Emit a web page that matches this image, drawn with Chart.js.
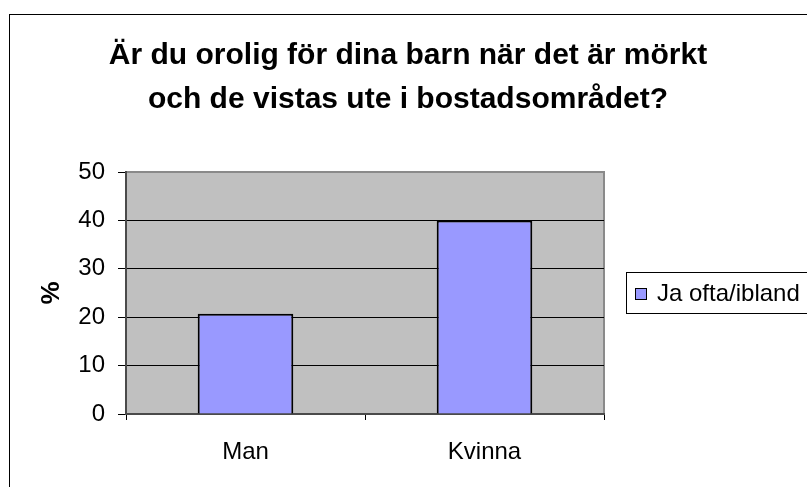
<!DOCTYPE html>
<html>
<head>
<meta charset="utf-8">
<script src="https://cdn.jsdelivr.net/npm/chart.js@4"></script>
<style>
html, body { margin: 0; padding: 0; background: #fff; }
canvas { display: block; }
</style>
</head>
<body>
<canvas id="myChart" width="807" height="487"></canvas>
<script>
const categories = ['Man', 'Kvinna'];
const seriesName = 'Ja ofta/ibland';
const values = [20.7, 40];
const yTicks = [0, 10, 20, 30, 40, 50];
const titleLines = ['Är du orolig för dina barn när det är mörkt', 'och de vistas ute i bostadsområdet?'];

Chart.defaults.font.family = '"Liberation Sans", Arial, sans-serif';
Chart.defaults.color = '#000';

// plot background, outer frame and the boxed legend (Excel look)
const frame = {
    id: 'frame',
    beforeDraw(chart) {
        const { ctx, chartArea: a } = chart;
        ctx.save();
        ctx.fillStyle = '#fff';
        ctx.fillRect(0, 0, chart.width, chart.height);
        ctx.strokeStyle = '#000';
        ctx.lineWidth = 1;
        ctx.strokeRect(9.5, 14.5, chart.width + 20, chart.height + 20);
        ctx.fillStyle = '#c0c0c0';
        ctx.fillRect(a.left, a.top, a.right - a.left, a.bottom - a.top);
        ctx.strokeStyle = '#8a8a8a';
        ctx.lineWidth = 2;
        ctx.beginPath();
        ctx.moveTo(a.left, a.top);
        ctx.lineTo(a.right, a.top);
        ctx.lineTo(a.right, a.bottom);
        ctx.stroke();
        ctx.restore();
    },
    afterDraw(chart) {
        const { ctx } = chart;
        const ds = chart.data.datasets[0];
        ctx.save();
        ctx.strokeStyle = '#000';
        ctx.lineWidth = 1;
        ctx.strokeRect(626.5, 272.5, 220, 41);
        ctx.fillStyle = ds.backgroundColor;
        ctx.fillRect(635, 288, 12, 12);
        ctx.strokeRect(635.5, 288.5, 11, 11);
        ctx.fillStyle = '#000';
        ctx.font = '24px "Liberation Sans", Arial, sans-serif';
        ctx.textBaseline = 'middle';
        ctx.fillText(ds.label, 657, 294);
        ctx.restore();
    }
};

const ctx = document.getElementById('myChart').getContext('2d');
const myChart = new Chart(ctx, {
    type: 'bar',
    data: {
        labels: categories,
        datasets: [{
            label: seriesName,
            data: values,
            backgroundColor: '#9999ff',
            borderColor: '#000',
            borderWidth: 2,
            barPercentage: 0.4,
            categoryPercentage: 1
        }]
    },
    options: {
        responsive: false,
        animation: false,
        layout: { padding: { left: 9, top: 0, right: 0, bottom: 0 } },
        plugins: {
            legend: { display: false },
            tooltip: { enabled: false },
            title: {
                display: true,
                text: titleLines,
                color: '#000',
                font: { size: 30, weight: 'bold', lineHeight: 1.45 },
                padding: { top: 34, bottom: 51 }
            }
        },
        scales: {
            x: {
                grid: { offset: true, drawOnChartArea: false, tickLength: 6, color: '#000' },
                border: { color: '#4a4a4a', width: 2 },
                ticks: { font: { size: 24 }, padding: 18 },
                afterFit: s => { s.height = 73; }
            },
            y: {
                min: 0,
                max: 50,
                afterBuildTicks: s => { s.ticks = yTicks.map(v => ({ value: v })); },
                grid: {
                    tickLength: 8,
                    tickColor: '#000',
                    color: c => (c.tick && c.tick.value === 50) ? 'rgba(0,0,0,0)' : '#000'
                },
                border: { color: '#4a4a4a', width: 2 },
                ticks: { font: { size: 24 }, padding: 13 },
                title: {
                    display: true,
                    text: '%',
                    font: { size: 26, weight: 'bold' },
                    padding: { top: 27 }
                },
                afterFit: s => { s.width = 117; }
            },
            y2: {
                position: 'right',
                grid: { display: false },
                border: { display: false },
                ticks: { display: false },
                afterFit: s => { s.width = 203; }
            }
        }
    },
    plugins: [frame]
});
</script>
</body>
</html>
